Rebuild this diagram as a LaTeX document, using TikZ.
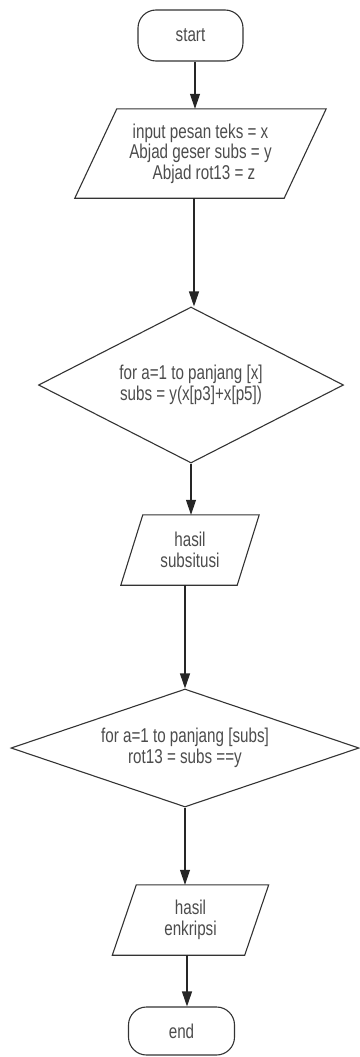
\documentclass[tikz,border=0pt]{standalone}
\usepackage{fontspec}
\setmainfont{Liberation Sans}[FakeStretch=0.76]
\usetikzlibrary{arrows.meta,shapes.geometric}

% parallelogram (input/output) drawn around a plain rectangular node
\newcommand\slantbox[2]{%
  \draw[outline] ([xshift=-#2]#1.south west) -- ([xshift=#2]#1.north west)
    -- ([xshift=#2]#1.north east) -- ([xshift=-#2]#1.south east) -- cycle;}

\begin{document}
\begin{tikzpicture}[x=1pt,y=-1pt,
  outline/.style={draw=black!80, line width=1.1pt},
  arr/.style={draw=black!85, line width=1.1pt, -{Triangle[length=15pt,width=10pt]}},
  txt/.style={text=black!70, font=\fontsize{20}{20.5}\selectfont, align=center, inner sep=0pt},
  term/.style={outline, txt, rounded corners=18pt, minimum width=105pt, minimum height=51pt},
  io/.style={txt},
  dec/.style={diamond, outline, txt}
]
\useasboundingbox (0,0) rectangle (359,1057);

\node[term] (start) at (190.5,35.5) {start};
\node[io, minimum width=209pt, minimum height=89pt] (in1) at (200.5,153.5)
  {input pesan teks = x\\Abjad geser subs = y\\\hspace*{7pt}Abjad rot13 = z};
\slantbox{in1}{21pt}
\node[dec, minimum width=305pt, minimum height=156pt, aspect=2] (d1) at (191,385)
  {for a=1 to panjang [x]\\subs = y(x[p3]+x[p5])};
\node[io, minimum width=116pt, minimum height=70pt] (in2) at (190,550) {hasil\\subsitusi};
\slantbox{in2}{11pt}
\node[dec, minimum width=348pt, minimum height=118pt, aspect=3] (d2) at (185,748)
  {for a=1 to panjang [subs]\\rot13 = subs ==y};
\node[io, minimum width=132pt, minimum height=70pt] (in3) at (190.5,920) {hasil\\enkripsi};
\slantbox{in3}{12pt}
\node[term, minimum width=106pt, minimum height=48pt] (end) at (181.5,1031) {end};

\draw[arr] ([xshift=4.5pt]start.south) -- ([xshift=-5.5pt]in1.north);
\draw[arr] ([xshift=-6.5pt]in1.south) -- ([xshift=3pt]d1.north);
\draw[arr] (d1.south) -- (d1.south |- in2.north);
\draw[arr] (d2.north |- in2.south) -- (d2.north);
\draw[arr] (d2.south) -- (d2.south |- in3.north);
\draw[arr] ([xshift=-3.5pt]in3.south) -- ([xshift=5.5pt]end.north);
\end{tikzpicture}
\end{document}
